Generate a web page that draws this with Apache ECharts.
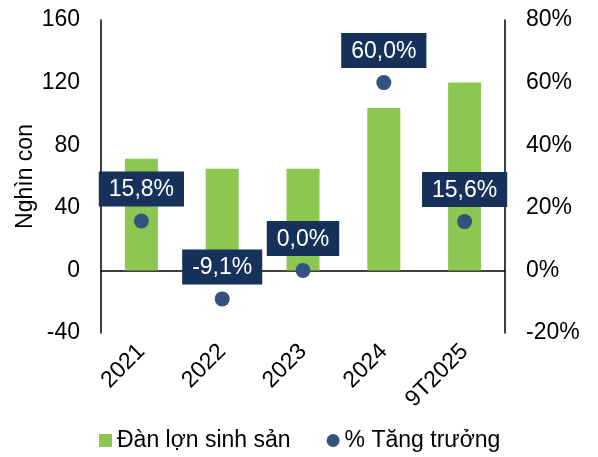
<!DOCTYPE html>
<html>
<head>
<meta charset="utf-8">
<script src="https://cdn.jsdelivr.net/npm/echarts@6/dist/echarts.min.js"></script>
<style>
  html, body { margin: 0; padding: 0; background: #fff; }
  #chart { width: 598px; height: 457px; }
</style>
</head>
<body>
<div id="chart"></div>
<script type="text/javascript">
  var categories = ['2021', '2022', '2023', '2024', '9T2025'];
  var herdValues = [71.4, 64.9, 64.9, 103.8, 120.0];   // nghìn con
  var growthValues = [15.8, -9.1, 0.0, 60.0, 15.6];    // %
  var leftTicks = { min: -40, max: 160, interval: 40 };
  var rightTicks = { min: -20, max: 80, interval: 20 };

  var font = 'Liberation Sans, Arial, sans-serif';
  var fs = 23;
  var myChart = echarts.init(document.getElementById('chart'));

  var option = {
    animation: false,
    textStyle: { fontFamily: font },
    grid: { left: 101, right: 93, top: 20, bottom: 124 },
    legend: {
      left: 94,
      bottom: 0,
      itemWidth: 13,
      itemHeight: 13,
      itemGap: 36,
      textStyle: { fontSize: fs, color: '#000', fontFamily: font },
      data: [
        { name: 'Đàn lợn sinh sản', icon: 'rect' },
        { name: '% Tăng trưởng', icon: 'circle' }
      ]
    },
    xAxis: {
      type: 'category',
      data: categories,
      axisLine: { onZero: true, lineStyle: { color: '#000', width: 1.5 } },
      axisTick: { show: false },
      axisLabel: { rotate: 45, fontSize: fs, color: '#000', margin: 15, fontFamily: font }
    },
    yAxis: [
      {
        type: 'value',
        min: leftTicks.min, max: leftTicks.max, interval: leftTicks.interval,
        name: 'Nghìn con',
        nameLocation: 'middle',
        nameGap: 64,
        nameMoveOverlap: false,
        nameTextStyle: { fontSize: fs, color: '#000', fontFamily: font },
        axisLine: { show: true, lineStyle: { color: '#000', width: 1.5 } },
        axisTick: { show: false },
        splitLine: { show: false },
        axisLabel: { fontSize: fs, color: '#000', margin: 21, fontFamily: font }
      },
      {
        type: 'value',
        min: rightTicks.min, max: rightTicks.max, interval: rightTicks.interval,
        axisLine: { show: true, lineStyle: { color: '#000', width: 1.5 } },
        axisTick: { show: false },
        splitLine: { show: false },
        axisLabel: { fontSize: fs, color: '#000', margin: 21, formatter: '{value}%', fontFamily: font }
      }
    ],
    series: [
      {
        name: 'Đàn lợn sinh sản',
        type: 'bar',
        yAxisIndex: 0,
        barWidth: 33,
        itemStyle: { color: '#8DC650' },
        data: herdValues
      },
      {
        name: '% Tăng trưởng',
        type: 'scatter',
        yAxisIndex: 1,
        symbolSize: 15,
        z: 5,
        itemStyle: { color: '#34527F', opacity: 1 },
        label: {
          show: true,
          position: 'top',
          distance: 7,
          color: '#fff',
          fontSize: fs,
          fontFamily: font,
          backgroundColor: '#17325A',
          padding: [7, 10, 5, 10],
          formatter: function (p) {
            return p.value.toFixed(1).replace('.', ',') + '%';
          }
        },
        data: growthValues
      }
    ]
  };
  myChart.setOption(option);
</script>
</body>
</html>
